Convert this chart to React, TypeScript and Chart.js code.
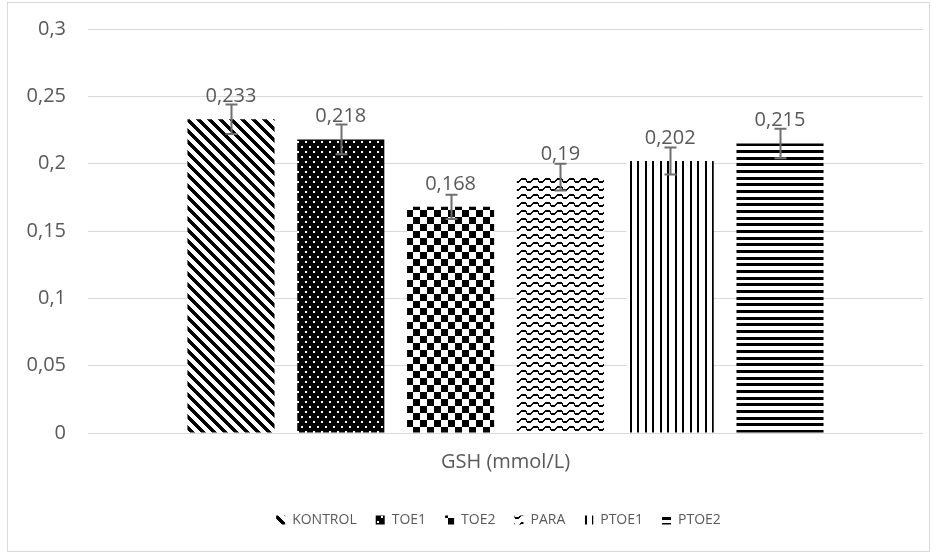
import { useEffect, useRef } from "react";
import { Chart, registerables } from "chart.js";

Chart.register(...registerables);

const categories = ["GSH (mmol/L)"];
const seriesNames = ["KONTROL", "TOE1", "TOE2", "PARA", "PTOE1", "PTOE2"];
const seriesValues = [0.233, 0.218, 0.168, 0.19, 0.202, 0.215];
const seriesErrors = [0.011, 0.011, 0.009, 0.01, 0.01, 0.011];
const yMin = 0;
const yMax = 0.3;
const yStep = 0.05;

const FONT = "'Open Sans', 'DejaVu Sans', sans-serif";
const TEXT = "#595959";

function fmt(v: number): string {
  return String(Number(v.toFixed(3))).replace(".", ",");
}

function makeTile(w: number, h: number, isBlack: (x: number, y: number) => boolean): CanvasPattern {
  const c = document.createElement("canvas");
  c.width = w;
  c.height = h;
  const ctx = c.getContext("2d")!;
  const img = ctx.createImageData(w, h);
  for (let y = 0; y < h; y++) {
    for (let x = 0; x < w; x++) {
      const k = (y * w + x) * 4;
      const v = isBlack(x, y) ? 0 : 255;
      img.data[k] = v;
      img.data[k + 1] = v;
      img.data[k + 2] = v;
      img.data[k + 3] = 255;
    }
  }
  ctx.putImageData(img, 0, 0);
  const p = document.createElement("canvas").getContext("2d")!.createPattern(c, "repeat")!;
  return p;
}

function makePatterns(): CanvasPattern[] {
  const diag = makeTile(11, 11, (x, y) => (((x - y) % 11) + 11) % 11 < 5);
  const dots = makeTile(8, 10, (x, y) => {
    const d1 = (x === 1 || x === 2) && (y === 1 || y === 2);
    const d2 = (x === 5 || x === 6) && (y === 6 || y === 7);
    return !(d1 || d2);
  });
  const checker = makeTile(14, 14, (x, y) => (Math.floor(x / 7) + Math.floor(y / 7)) % 2 === 0);
  const yc = (x: number) => Math.round(3.5 + 2 * Math.cos((2 * Math.PI * x) / 12));
  const wave = makeTile(12, 8, (x, y) => {
    const a = yc(x);
    const b = yc((x + 11) % 12);
    const lo = Math.min(a, b);
    const hi = Math.max(a, b);
    return y >= lo && y <= hi + (a === b ? 1 : 0);
  });
  const vlines = makeTile(15, 1, (x) => x === 0 || x === 1 || x === 7 || x === 8);
  const hlines = makeTile(1, 20, (_x, y) => [3, 4, 5, 10, 11, 12, 17, 18, 19].includes(y));
  return [diag, dots, checker, wave, vlines, hlines];
}

const backgroundPlugin = {
  id: "bgBorder",
  beforeDraw(chart: any) {
    const ctx = chart.ctx as CanvasRenderingContext2D;
    ctx.save();
    ctx.fillStyle = "#ffffff";
    ctx.fillRect(0, 0, chart.width, chart.height);
    ctx.strokeStyle = "#d9d9d9";
    ctx.lineWidth = 1;
    ctx.strokeRect(7.5, 2.5, 922, 549);
    ctx.restore();
  },
};

const yLabelPlugin = {
  id: "yLabels",
  afterDraw(chart: any) {
    const ctx = chart.ctx as CanvasRenderingContext2D;
    const yScale = chart.scales.y;
    ctx.save();
    ctx.fillStyle = TEXT;
    ctx.font = `20px ${FONT}`;
    ctx.textAlign = "right";
    ctx.textBaseline = "middle";
    yScale.ticks.forEach((t: any) => {
      ctx.fillText(fmt(t.value), 66, yScale.getPixelForValue(t.value));
    });
    ctx.restore();
  },
};

const errorLabelPlugin = {
  id: "errorLabels",
  afterDatasetsDraw(chart: any) {
    const ctx = chart.ctx as CanvasRenderingContext2D;
    const yScale = chart.scales.y;
    ctx.save();
    chart.data.datasets.forEach((ds: any, i: number) => {
      const meta = chart.getDatasetMeta(i);
      const el = meta.data[0];
      if (!el) return;
      const v = seriesValues[i];
      const e = seriesErrors[i];
      const x = Math.round(el.x) + 0.5;
      const yT = yScale.getPixelForValue(v + e);
      const yB = yScale.getPixelForValue(v - e);
      ctx.strokeStyle = "#6f6f6f";
      ctx.lineWidth = 2;
      ctx.beginPath();
      ctx.moveTo(x, yT);
      ctx.lineTo(x, yB);
      ctx.moveTo(x - 6, yT);
      ctx.lineTo(x + 6, yT);
      ctx.moveTo(x - 6, yB);
      ctx.lineTo(x + 6, yB);
      ctx.stroke();
    });
    chart.data.datasets.forEach((ds: any, i: number) => {
      const meta = chart.getDatasetMeta(i);
      const el = meta.data[0];
      if (!el) return;
      ctx.fillStyle = TEXT;
      ctx.font = `20px ${FONT}`;
      ctx.textAlign = "center";
      ctx.textBaseline = "alphabetic";
      ctx.fillText(fmt(seriesValues[i]), el.x, el.y - 17);
    });
    ctx.restore();
  },
};

export default function App() {
  const ref = useRef<HTMLCanvasElement>(null);
  useEffect(() => {
    const canvas = ref.current!;
    const patterns = makePatterns();
    const chart = new Chart(canvas, {
      type: "bar",
      data: {
        labels: categories,
        datasets: seriesNames.map((name, i) => ({
          label: name,
          data: [seriesValues[i]],
          backgroundColor: patterns[i] as any,
          borderWidth: 0,
          categoryPercentage: 0.789,
          barPercentage: 0.793,
        })),
      },
      options: {
        responsive: false,
        animation: false,
        devicePixelRatio: 1,
        layout: { padding: { top: 29, right: 15, bottom: 21, left: 74 } },
        plugins: {
          tooltip: { enabled: false },
          legend: {
            position: "bottom",
            labels: {
              boxWidth: 9,
              boxHeight: 9,
              padding: 19,
              color: TEXT,
              font: { family: FONT, size: 14 },
            },
          },
        },
        scales: {
          x: {
            grid: { display: false, drawTicks: false },
            border: { display: false },
            ticks: { color: TEXT, font: { family: FONT, size: 20 }, padding: 17 },
            afterFit(scale: any) {
              scale.height = 61;
            },
          },
          y: {
            min: yMin,
            max: yMax,
            grid: { color: "#d9d9d9", drawTicks: false },
            border: { display: false },
            ticks: {
              stepSize: yStep,
              display: false,
            },
            afterFit(scale: any) {
              scale.width = 14;
            },
          },
        },
      },
      plugins: [backgroundPlugin, errorLabelPlugin, yLabelPlugin],
    });
    return () => chart.destroy();
  }, []);
  return (
    <div style={{ position: "absolute", left: 0, top: 0, width: 938, height: 558, background: "#fff" }}>
      <canvas ref={ref} width={938} height={558} style={{ display: "block" }} />
    </div>
  );
}
